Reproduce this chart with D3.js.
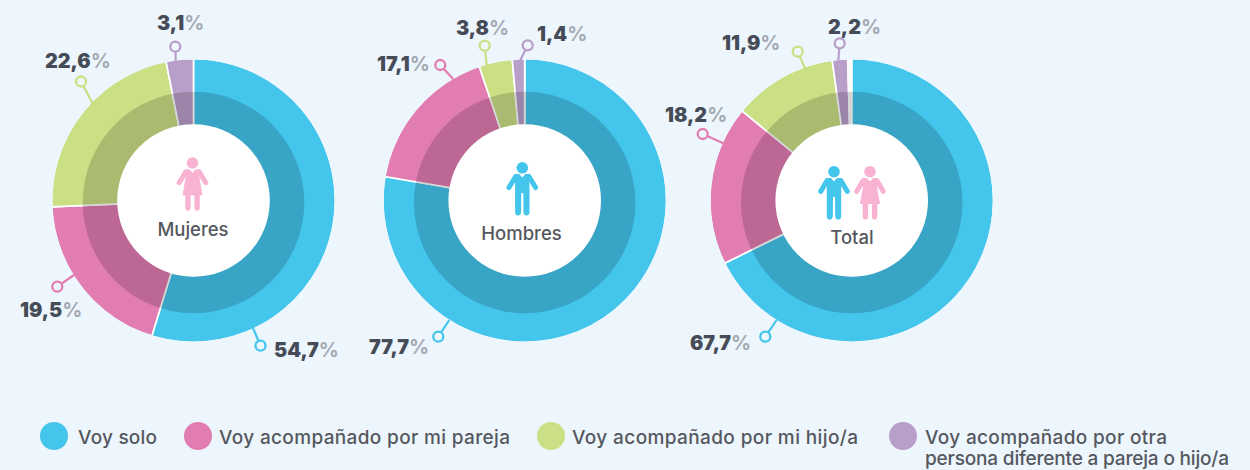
<!DOCTYPE html>
<html><head><meta charset="utf-8">
<script src="https://cdn.jsdelivr.net/npm/d3@7"></script>
<style>
html,body{margin:0;padding:0;background:#edf6fd;}
svg{display:block;}
text{font-family:Inter,"Noto Sans",sans-serif;}
</style></head><body>
<svg id="c" width="1250" height="470"></svg>
<script>
const categories=["Voy solo","Voy acompañado por mi pareja","Voy acompañado por mi hijo/a","Voy acompañado por otra"];
const legendSecondLine="persona diferente a pareja o hijo/a";
const colors=["#44c5ec","#e27db1","#cbdf85","#b89fca"];
const chartNames=["Mujeres","Hombres","Total"];
const mujeres=[54.7,19.5,22.6,3.1];
const hombres=[77.7,17.1,3.8,1.4];
// the Total ring leaves a thin white sliver at the top, inside its 2,2 % purple slice
const total=[67.7,18.2,11.9,1.75,0.45];
const labelMujeres=["54,7","19,5","22,6","3,1"];
const labelHombres=["77,7","17,1","3,8","1,4"];
const labelTotal=["67,7","18,2","11,9","2,2"];

const svg=d3.select("#c");
const bg="#edf6fd";
const R=141,Rm=110.8,Ri=76.3;
const pie=d3.pie().sort(null).value(d=>d);
const arcOuter=d3.arc().innerRadius(Ri-1.5).outerRadius(R+1);
const fills=colors.concat(["#ffffff"]);

const layouts=[
 {cx:193.5,cy:200.5,vals:mujeres,labs:labelMujeres,name:chartNames[0],nameX:193,nameY:235.5,
  pins:[[260.5,345.7,253,328],[57.3,286.7,74,275],[81,81.5,92.7,103.5],[175.3,46.7,175.8,62]],
  text:[[274,357],[20,317],[45,68],[157,29.5]],icons:[["w",192.5,184.2]]},
 {cx:524.7,cy:200.5,vals:hombres,labs:labelHombres,name:chartNames[1],nameX:521.5,nameY:240,
  pins:[[438.3,336.7,449.3,320],[440.3,65,453.3,79.3],[484.7,45.7,486.7,65],[527.7,45.3,520,60.7]],
  text:[[369,354],[377,70.5],[456,35],[537,41]],icons:[["m",522.3,189]]},
 {cx:851.7,cy:200.5,vals:total,labs:labelTotal,name:chartNames[2],nameX:852,nameY:244,
  pins:[[765.3,336.7,776.7,320],[702.7,134,723.3,143.3],[797.7,51.7,805,68.3],[839.7,43.3,838.3,60.7]],
  text:[[690,350],[665,122],[722,50],[828,33.5]],icons:[["m",834,192.9],["w",870,192.9]]}
];

function person(g,type,x,y){
  const c=type==="m"?"#44c5ec":"#f8b2d2";
  const i=g.append("g").attr("transform",`translate(${x},${y})`).attr("fill",c);
  i.append("circle").attr("cy",-21.2).attr("r",5.8);
  i.append("path").attr("fill","none").attr("stroke",c).attr("stroke-width",5).attr("stroke-linecap","round")
    .attr("d","M-7,-12 L-13.3,-1.5 M7,-12 L13.3,-1.5");
  if(type==="m"){
    i.append("path").attr("d","M-8,-15 L-3,-15 L0,-11.5 L3,-15 L8,-15 L7.2,-6 L7.2,23 Q7.2,26.6 4.3,26.6 Q1.4,26.6 1.2,23 L1,4 L-1,4 L-1.2,23 Q-1.4,26.6 -4.3,26.6 Q-7.2,26.6 -7.2,23 L-7.2,-6 Z");
  } else {
    i.append("path").attr("d","M-7.5,-15 L-3,-15 L0,-11.5 L3,-15 L7.5,-15 L7,-6 L10,11 L7.3,11 L7.3,23 Q7.3,26.6 4.6,26.6 Q2,26.6 1.9,23 L1.9,11 L-1.9,11 L-1.9,23 Q-2,26.6 -4.6,26.6 Q-7.3,26.6 -7.3,23 L-7.3,11 L-10,11 L-7,-6 Z");
  }
}

layouts.forEach(l=>{
  const g=svg.append("g").attr("transform",`translate(${l.cx},${l.cy})`);
  const arcs=pie(l.vals);
  g.selectAll("path.s").data(arcs).join("path").attr("class","s")
    .attr("d",arcOuter).attr("fill",(d,i)=>fills[i]).attr("stroke","#fff").attr("stroke-width",1.7);
  // trim the white slice strokes at the rim
  g.append("circle").attr("r",R+2).attr("fill","none").attr("stroke",bg).attr("stroke-width",4);
  // darker band, sitting 2px below the ring centre as in the reference
  g.append("circle").attr("cy",2).attr("r",Rm).attr("fill","rgba(0,0,0,0.16)");
  g.append("circle").attr("r",Ri).attr("fill","#fff");
  l.labs.forEach((lab,i)=>{
    const [px,py,ex,ey]=l.pins[i];
    svg.append("line").attr("x1",px).attr("y1",py).attr("x2",ex).attr("y2",ey)
      .attr("stroke",colors[i]).attr("stroke-width",2.2);
    svg.append("circle").attr("cx",px).attr("cy",py).attr("r",5)
      .attr("fill",bg).attr("stroke",colors[i]).attr("stroke-width",2.3);
    const [tx,ty]=l.text[i];
    const t=svg.append("text").attr("x",tx).attr("y",ty)
      .attr("font-size",19.8).attr("font-weight",900).attr("fill","#464c57");
    t.append("tspan").text(lab);
    t.append("tspan").text("%").attr("fill","#a4a9b3").attr("font-weight",700);
  });
  l.icons.forEach(c=>person(svg,c[0],c[1],c[2]));
  svg.append("text").attr("x",l.nameX).attr("y",l.nameY).attr("text-anchor","middle")
    .attr("font-size",18.5).attr("font-weight",500).attr("fill","#55585e").text(l.name);
});

// legend
const lx=[54,198,551,903],tx=[78,219,572,925],tw=[79,291,286,242];
function legendText(s,x,y,w){
  svg.append("text").attr("x",x).attr("y",y).attr("font-size",19).attr("font-weight",500)
    .attr("fill","#55585e").attr("textLength",w).attr("lengthAdjust","spacing").text(s);
}
categories.forEach((c,i)=>{
  svg.append("circle").attr("cx",lx[i]).attr("cy",436).attr("r",14).attr("fill",colors[i]);
  legendText(c,tx[i],444,tw[i]);
});
legendText(legendSecondLine,tx[3],465,304);
</script>
</body></html>
